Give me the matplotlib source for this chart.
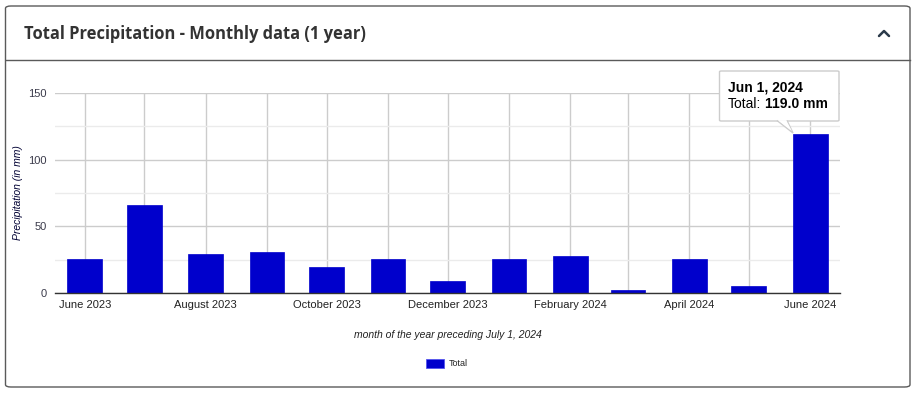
import datetime as dt
import matplotlib
matplotlib.use("Agg")
import matplotlib.pyplot as plt
from matplotlib.patches import FancyBboxPatch, Rectangle, Polygon
from matplotlib.lines import Line2D

# monthly totals (mm)
months = [dt.date(2023, m, 1) for m in range(6, 13)] + [dt.date(2024, m, 1) for m in range(1, 7)]
totals = [25.5, 66.0, 29.5, 30.5, 19.5, 25.5, 9.0, 25.5, 27.5, 2.5, 25.5, 5.0, 119.0]
tick_months = months[::2]
tick_labels = ["June 2023", "August 2023", "October 2023", "December 2023",
               "February 2024", "April 2024", "June 2024"]

W, H = 916, 394
fig = plt.figure(figsize=(W / 100, H / 100), dpi=100)
fig.patch.set_facecolor("white")

def fx(px):
    return px / W

def fy(py):
    return 1 - py / H

# card frame and header
fig.patches.append(FancyBboxPatch((fx(5.5), fy(387)), fx(904.5), 381 / H,
                                  boxstyle="round,pad=0,rounding_size=0.006",
                                  transform=fig.transFigure, fill=False,
                                  edgecolor="#5a5a5a", linewidth=1.0))
fig.add_artist(Line2D([fx(5.5), fx(910)], [fy(59.5), fy(59.5)],
                      transform=fig.transFigure, color="#5a5a5a", lw=1.0))
fig.text(fx(24), fy(34), "Total Precipitation - Monthly data (1 year)",
         fontfamily="Open Sans", fontweight="bold", fontsize=11.9,
         color="#333333", va="center", ha="left")
fig.add_artist(Line2D([fx(879), fx(884), fx(889)], [fy(36), fy(31), fy(36)],
                      transform=fig.transFigure, color="#2b3a4a", lw=1.8,
                      solid_capstyle="round"))

ax = fig.add_axes([fx(55), fy(293), fx(785), 200 / H])
ax.bar(months, totals, width=17.5, color="#0000cc", edgecolor="#0000cc",
       linewidth=0.5, zorder=3, label="Total")

ax.set_ylim(0, 150)
ax.set_xlim(dt.date(2023, 5, 17), dt.date(2024, 6, 16))
ax.set_yticks([0, 50, 100, 150])
ax.set_yticks([25, 75, 125], minor=True)
ax.set_xticks(months, minor=True)
ax.set_xticks(tick_months)
ax.set_xticklabels(tick_labels)
ax.tick_params(axis="both", which="both", length=0, labelsize=8,
               labelcolor="#222222")
ax.tick_params(axis="y", labelcolor="#3a3a4a")
ax.tick_params(axis="x", pad=5)
ax.tick_params(axis="y", pad=6)
for lbl in ax.get_xticklabels() + ax.get_yticklabels():
    lbl.set_fontfamily("Liberation Sans")

ax.grid(True, which="major", axis="y", color="#cccccc", lw=1, zorder=0)
ax.grid(True, which="minor", axis="y", color="#ebebeb", lw=1, zorder=0)
ax.grid(True, which="both", axis="x", color="#cccccc", lw=1, zorder=0)
for s in ["top", "right", "left"]:
    ax.spines[s].set_visible(False)
ax.spines["bottom"].set_color("#333333")
ax.spines["bottom"].set_linewidth(1.0)
ax.spines["bottom"].set_zorder(4)

ax.set_ylabel("Precipitation (in mm)", fontsize=7.5, fontstyle="italic",
              fontfamily="Liberation Sans", color="#000033")
ax.yaxis.set_label_coords((23 - 55) / 785, 0.5)
fig.text(fx(448), fy(335), "month of the year preceding July 1, 2024",
         fontsize=7.5, fontstyle="italic", fontfamily="Liberation Sans",
         color="#222222", ha="center", va="center")

# legend
fig.patches.append(Rectangle((fx(426), fy(368)), fx(18), 9 / H,
                             transform=fig.transFigure, facecolor="#0000cc",
                             edgecolor="#5555ee", lw=0.6))
fig.text(fx(449), fy(363.5), "Total", fontsize=6.5, fontfamily="Liberation Sans",
         color="#222222", va="center", ha="left")

# tooltip on the last bar
tip = FancyBboxPatch((fx(719.5), fy(121)), fx(119.5), 50 / H,
                     boxstyle="round,pad=0,rounding_size=0.002",
                     transform=fig.transFigure, facecolor="white",
                     edgecolor="#cccccc", lw=1, zorder=10)
fig.patches.append(tip)
fig.patches.append(Polygon([(fx(777), fy(120.5)), (fx(793), fy(133)), (fx(787), fy(120.5))],
                           closed=False, transform=fig.transFigure,
                           facecolor="white", edgecolor="#cccccc", lw=1, zorder=11))
fig.patches.append(Polygon([(fx(778), fy(120.2)), (fx(792), fy(131)), (fx(786), fy(120.2))],
                           transform=fig.transFigure, facecolor="white",
                           edgecolor="none", zorder=12))
fig.text(fx(728), fy(87), "Jun 1, 2024", fontsize=10, fontweight="bold",
         fontfamily="Liberation Sans", color="black", va="center", ha="left",
         zorder=13)
t1 = fig.text(fx(728), fy(104), "Total:", fontsize=10,
              fontfamily="Liberation Sans", color="black", va="center", ha="left",
              zorder=13)
fig.canvas.draw()
x_end = t1.get_window_extent().x1
fig.text(fx(x_end + 4), fy(104), "119.0 mm", fontsize=10, fontweight="bold",
         fontfamily="Liberation Sans", color="black", va="center", ha="left",
         zorder=13)

fig.savefig("out.png", dpi=100, facecolor="white")
